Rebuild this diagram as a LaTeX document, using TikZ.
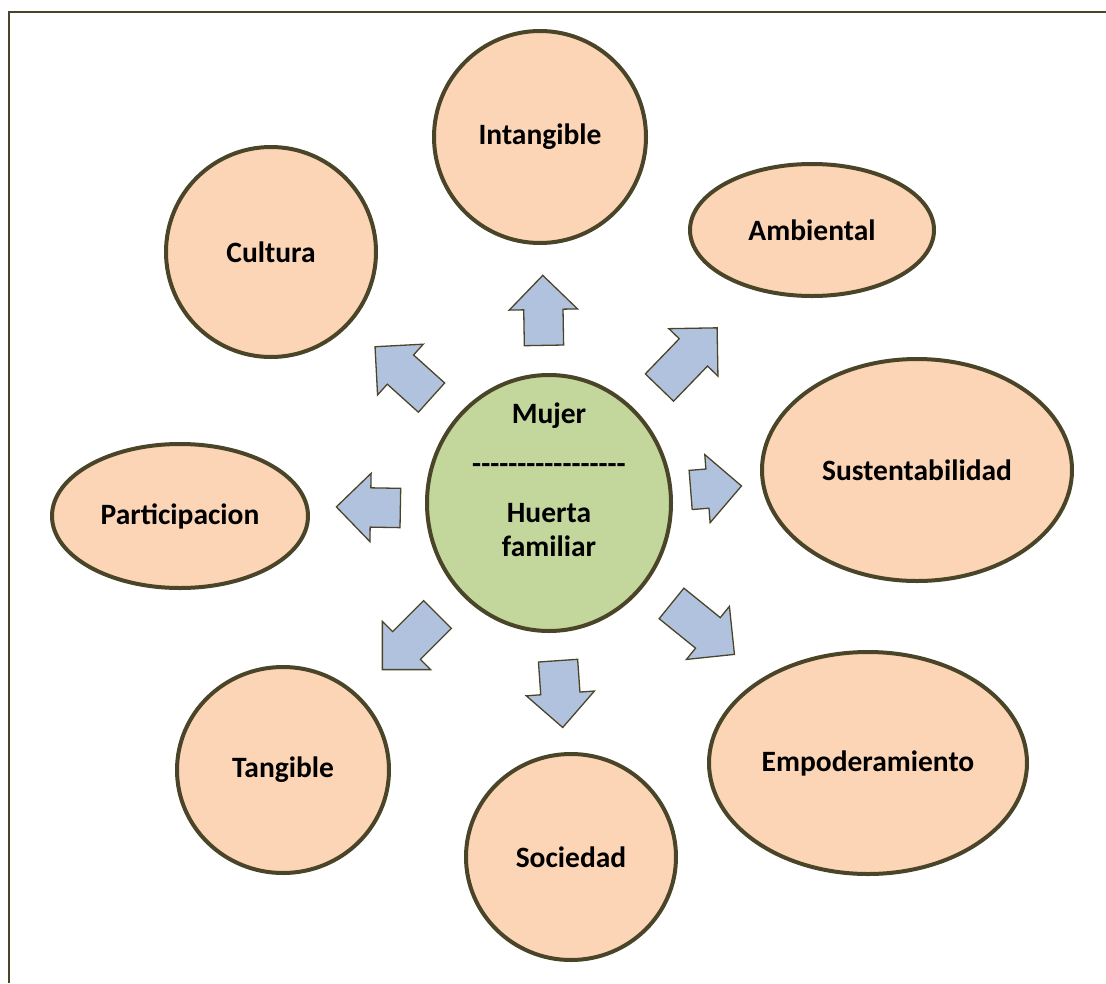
\documentclass[tikz,border=0pt]{standalone}
\usepackage{fontspec}
\setmainfont{Carlito}
\usetikzlibrary{shapes,arrows,positioning}
\definecolor{borde}{HTML}{4A4528}
\definecolor{durazno}{HTML}{FBD5B5}
\definecolor{verde}{HTML}{C3D69B}
\definecolor{azul}{HTML}{B0C2DE}
\tikzstyle{tema} = [draw=borde, fill=durazno, ellipse, line width=4pt, inner sep=0pt]
\tikzstyle{centro} = [draw=borde, fill=verde, ellipse, line width=4pt, inner sep=0pt]
\tikzstyle{flecha} = [draw=borde, fill=azul, single arrow, line width=1.3pt, anchor=tail,
single arrow head extend=14.5pt, inner xsep=0pt, inner ysep=19pt, minimum width=0pt]
\newcommand{\raya}{\mbox{-}}

\begin{document}
\begin{tikzpicture}[x=1pt, y=-1pt, font=\fontsize{29.5}{36}\selectfont\bfseries]
		\useasboundingbox (0,0) rectangle (1106,983);
		\draw[borde, line width=2pt] (1106,12) -- (9,12) -- (9,983);
		
		\node(huerta)[centro, minimum width=244pt, minimum height=256pt] at (549,503){};
		\node(huertatxt)[align=center] at ([yshift=23pt]huerta.center){Mujer\\[14pt]\foreach \i in {1,...,17}{\raya}\\[13pt]Huerta\\[-2pt]familiar};
		
		\node(intangible)[tema, minimum width=212pt, minimum height=212pt] at (540,137){Intangible};
		\node(cultura)[tema, minimum width=210pt, minimum height=210pt] at (271,252){Cultura};
		\node(ambiental)[tema, minimum width=244pt, minimum height=132pt] at (812,230){Ambiental};
		\node(sustentabilidad)[tema, minimum width=310pt, minimum height=222pt] at (917,470){Sustentabilidad};
		\node(participacion)[tema, minimum width=256pt, minimum height=144pt] at (180,516){Participacion};
		\node(empoderamiento)[tema, minimum width=318pt, minimum height=222pt] at (868,763){Empoderamiento};
		\node(tangible)[tema, minimum width=212pt, minimum height=206pt] at (283,770){Tangible};
		\node(sociedad)[tema, minimum width=210pt, minimum height=206pt] at (571,857){Sociedad};
		
		\node(flintangible)[flecha, minimum height=70pt, rotate=91] at (544,346){};
		\node(flambiental)[flecha, minimum height=83pt, rotate=46] at (659,388){};
		\node(flsustentabilidad)[flecha, minimum height=51pt, rotate=4.5] at (690,490){};
		\node(flempoderamiento)[flecha, minimum height=81pt, rotate=-39] at (671,603){};
		\node(flsociedad)[flecha, minimum height=67pt, rotate=-86] at (558,660){};
		\node(fltangible)[flecha, minimum height=78pt, rotate=-135] at (438,614){};
		\node(flparticipacion)[flecha, minimum height=64pt, rotate=179] at (401,508){};
		\node(flcultura)[flecha, minimum height=76pt, rotate=138] at (432,398){};
		\end{tikzpicture}
\end{document}
